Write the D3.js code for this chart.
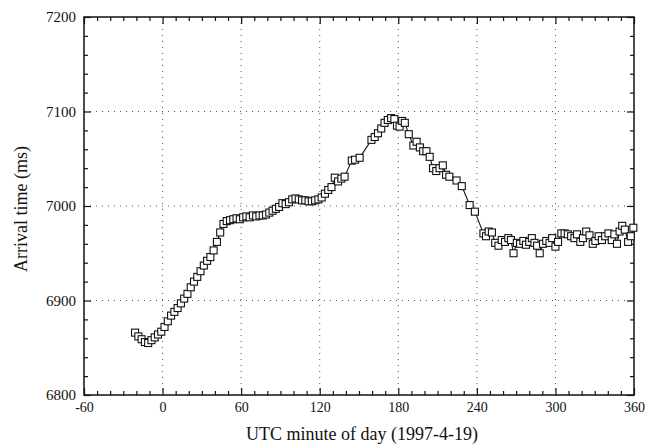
<!DOCTYPE html>
<html>
<head>
<meta charset="utf-8">
<script src="https://cdn.jsdelivr.net/npm/d3@7"></script>
<style>
  html, body { margin: 0; padding: 0; background: #fff; }
  svg { display: block; }
  text { font-family: "Liberation Serif", "Times New Roman", serif; fill: #111; }
</style>
</head>
<body>
<svg id="chart" width="648" height="448"></svg>
<script>
// Arrival time measurements, minutes UTC on 1997-4-19
const minutes = [
  -21, -18.5, -16, -13.5, -11, -8.5, -6, -3.5, -1, 1.5, 4, 6.5, 9, 11.5, 14, 16.5,
  19, 21.5, 24, 26.5, 29, 31.5, 34, 36.5, 39, 41.5, 44, 46.5, 49, 51.5, 54, 56.5,
  59, 61.5, 64, 66.5, 69, 71.5, 74, 76.5, 79, 81.5, 84, 86.5, 89, 91.5, 94, 96.5,
  99, 101.5, 104, 106.5, 109, 111.5, 114, 116.5, 119, 121.5, 124, 126.5, 129, 131.5,
  134, 136.5, 139, 144.5, 147, 150.5, 159.5, 162, 164.5, 167, 169.5, 172, 174.5, 177,
  179, 181, 183, 185, 188, 191.5, 194, 196.5, 199, 201.5, 204, 206.5, 209, 211.5,
  214, 216.5, 219, 224.5, 228.5, 234.5, 238.5, 245, 247, 249, 251.5, 254, 256.5, 259,
  261.5, 264, 266, 268, 270.5, 273, 275.5, 277.5, 280, 282, 284, 286, 288, 290.5,
  293, 295.5, 297.5, 300, 302, 304.5, 307, 309.5, 312, 314.5, 316.5, 319, 321, 323.5,
  326, 328.5, 330.5, 333, 335.5, 338, 340.5, 343, 345, 347, 349, 351, 353, 355.5,
  357.5, 359.5
];
const arrivalMs = [
  6866, 6862, 6859, 6856, 6855, 6858, 6861, 6864, 6867, 6872, 6878, 6884, 6888, 6892, 6897, 6902,
  6907, 6914, 6920, 6925, 6931, 6937, 6942, 6946, 6953, 6962, 6972, 6981, 6984, 6985, 6986, 6987,
  6986, 6988, 6989, 6988, 6990, 6989, 6990, 6990, 6991, 6993, 6995, 6997, 6999, 7003, 7002, 7004,
  7007, 7008, 7007, 7006, 7006, 7005, 7005, 7006, 7007, 7009, 7013, 7017, 7020, 7030,
  7026, 7029, 7031, 7048, 7049, 7051, 7070, 7073, 7077, 7082, 7088, 7091, 7093, 7092,
  7085, 7084, 7090, 7088, 7076, 7064, 7068, 7062, 7058, 7058, 7052, 7040, 7037, 7040,
  7043, 7033, 7031, 7027, 7021, 7001, 6994, 6971, 6968, 6973, 6972, 6961, 6958, 6964,
  6962, 6966, 6964, 6950, 6961, 6960, 6963, 6959, 6962, 6966, 6961, 6958, 6950, 6960,
  6963, 6961, 6966, 6957, 6962, 6971, 6971, 6970, 6968, 6966, 6970, 6962, 6966, 6973,
  6969, 6960, 6963, 6968, 6964, 6968, 6971, 6964, 6970, 6960, 6973, 6979, 6975, 6962,
  6968, 6977
];
const xTicks = [-60, 0, 60, 120, 180, 240, 300, 360];
const yTicks = [6800, 6900, 7000, 7100, 7200];
const xLabel = "UTC minute of day (1997-4-19)";
const yLabel = "Arrival time (ms)";

const data = minutes.map((t, i) => ({ t, v: arrivalMs[i] }));

const svg = d3.select("#chart");
const m = { left: 84, right: 14, top: 17, bottom: 53 };
const W = 648, H = 448;
const x = d3.scaleLinear().domain([-60, 360]).range([m.left, W - m.right]);
const y = d3.scaleLinear().domain([6800, 7200]).range([H - m.bottom, m.top]);

const x0 = x.range()[0], x1 = x.range()[1];
const y0 = y.range()[0], y1 = y.range()[1];

// dotted grid at the major ticks
const grid = svg.append("g").attr("stroke", "#555").attr("stroke-width", 1)
  .attr("stroke-dasharray", "1,5");
xTicks.slice(1, -1).forEach(t => {
  grid.append("line").attr("x1", x(t)).attr("x2", x(t)).attr("y1", y1).attr("y2", y0);
});
yTicks.slice(1, -1).forEach(v => {
  grid.append("line").attr("x1", x0).attr("x2", x1).attr("y1", y(v)).attr("y2", y(v));
});

// axes with inward ticks on all four sides
const xMinor = d3.range(-60, 361, 10).filter(t => !xTicks.includes(t));
const yMinor = d3.range(6800, 7201, 20).filter(v => !yTicks.includes(v));
const plain = d => String(d);

function styleAxis(size) {
  return g => {
    g.select(".domain").remove();
    g.selectAll(".tick line").attr("stroke", "#111").attr("stroke-width", 1.2);
    g.selectAll("text").style("font-family", "'Liberation Serif', serif")
      .style("font-size", size + "px").attr("fill", "#111");
  };
}

svg.append("g").attr("transform", `translate(0,${y0})`)
  .call(d3.axisBottom(x).tickValues(xTicks).tickSize(-7).tickPadding(7).tickFormat(plain))
  .call(styleAxis(14));
svg.append("g").attr("transform", `translate(0,${y0})`)
  .call(d3.axisBottom(x).tickValues(xMinor).tickSize(-4).tickFormat(""))
  .call(styleAxis(14));
svg.append("g").attr("transform", `translate(0,${y1})`)
  .call(d3.axisTop(x).tickValues(xTicks).tickSize(-7).tickFormat(""))
  .call(styleAxis(14));
svg.append("g").attr("transform", `translate(0,${y1})`)
  .call(d3.axisTop(x).tickValues(xMinor).tickSize(-4).tickFormat(""))
  .call(styleAxis(14));
svg.append("g").attr("transform", `translate(${x0},0)`)
  .call(d3.axisLeft(y).tickValues(yTicks).tickSize(-7).tickPadding(8).tickFormat(plain))
  .call(styleAxis(15));
svg.append("g").attr("transform", `translate(${x0},0)`)
  .call(d3.axisLeft(y).tickValues(yMinor).tickSize(-4).tickFormat(""))
  .call(styleAxis(14));
svg.append("g").attr("transform", `translate(${x1},0)`)
  .call(d3.axisRight(y).tickValues(yTicks).tickSize(-7).tickFormat(""))
  .call(styleAxis(14));
svg.append("g").attr("transform", `translate(${x1},0)`)
  .call(d3.axisRight(y).tickValues(yMinor).tickSize(-4).tickFormat(""))
  .call(styleAxis(14));

// frame
svg.append("rect").attr("x", x0).attr("y", y1).attr("width", x1 - x0).attr("height", y0 - y1)
  .attr("fill", "none").attr("stroke", "#111").attr("stroke-width", 1.5);

// connecting line
svg.append("path").datum(data)
  .attr("fill", "none").attr("stroke", "#111").attr("stroke-width", 1.1)
  .attr("d", d3.line().x(d => x(d.t)).y(d => y(d.v)));

// open square markers
const s = 7;
svg.append("g").selectAll("rect").data(data).join("rect")
  .attr("x", d => x(d.t) - s / 2).attr("y", d => y(d.v) - s / 2)
  .attr("width", s).attr("height", s)
  .attr("fill", "#fff").attr("stroke", "#111").attr("stroke-width", 1.1);

// axis titles
svg.append("text").attr("x", (x0 + x1) / 2 + 3).attr("y", 440)
  .attr("text-anchor", "middle").style("font-size", "18px").text(xLabel);
svg.append("text").attr("transform", `translate(27,${(y0 + y1) / 2 + 3}) rotate(-90)`)
  .attr("text-anchor", "middle").style("font-size", "18px").text(yLabel);
</script>
</body>
</html>
